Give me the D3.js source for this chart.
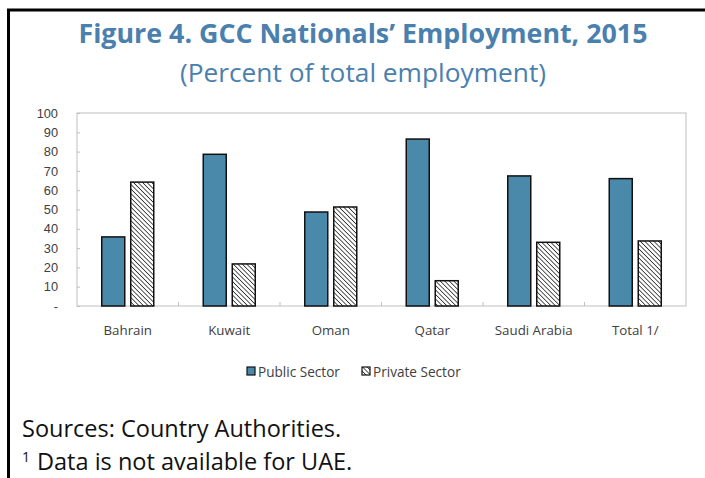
<!DOCTYPE html>
<html>
<head>
<meta charset="utf-8">
<script src="https://cdn.jsdelivr.net/npm/d3@7"></script>
<style>
  body { margin: 0; background: #fff; }
  svg { display: block; font-family: "Open Sans", "Noto Sans", sans-serif; }
</style>
</head>
<body>
<svg width="705" height="478"></svg>
<script>
// data
var countries = ["Bahrain", "Kuwait", "Oman", "Qatar", "Saudi Arabia", "Total 1/"];
var publicSector = [35.8, 78.6, 48.7, 86.5, 67.4, 66.0];
var privateSector = [64.2, 21.8, 51.3, 13.1, 33.0, 33.7];
var seriesNames = ["Public Sector", "Private Sector"];
var yTicks = [0, 10, 20, 30, 40, 50, 60, 70, 80, 90, 100];

var svg = d3.select("svg"),
    width = +svg.attr("width"),
    height = +svg.attr("height");

var margin = {left: 77, top: 113, right: 19, bottom: 172};
var plotW = width - margin.left - margin.right,
    plotH = height - margin.top - margin.bottom;

var blue = "#4a89aa",
    titleBlue = "#4a80ad";

// hatch for private sector
var defs = svg.append("defs");
var pat = defs.append("pattern")
    .attr("id", "hatch")
    .attr("patternUnits", "userSpaceOnUse")
    .attr("width", 3.2)
    .attr("height", 3.2)
    .attr("patternTransform", "rotate(-45)");
pat.append("rect").attr("width", 3.2).attr("height", 3.2).attr("fill", "#fff");
pat.append("line")
    .attr("x1", 0).attr("y1", 0).attr("x2", 0).attr("y2", 3.2)
    .attr("stroke", "#222").attr("stroke-width", 1.5);

// frame (left + top only)
svg.append("path")
    .attr("d", "M8.5," + height + "V10H" + width)
    .attr("fill", "none")
    .attr("stroke", "#000")
    .attr("stroke-width", 3);

// titles
svg.append("text")
    .attr("x", 363).attr("y", 43)
    .attr("text-anchor", "middle")
    .attr("font-size", 26.8)
    .attr("font-weight", "bold")
    .attr("fill", titleBlue)
    .text("Figure 4. GCC Nationals\u2019 Employment, 2015");

svg.append("text")
    .attr("x", 363).attr("y", 82)
    .attr("text-anchor", "middle")
    .attr("font-size", 26.3)
    .attr("fill", titleBlue)
    .text("(Percent of total employment)");

var g = svg.append("g").attr("transform", "translate(" + margin.left + "," + margin.top + ")");

var x = d3.scaleBand().domain(countries).range([0, plotW]);
var y = d3.scaleLinear().domain([0, 100]).range([plotH, 0]);

// plot border
g.append("rect")
    .attr("width", plotW).attr("height", plotH)
    .attr("fill", "none").attr("stroke", "#bfbfbf");

// y axis
var yAxis = g.append("g")
    .call(d3.axisLeft(y).tickValues(yTicks).tickSize(-3).tickPadding(19)
        .tickFormat(function (d) { return d === 0 ? "-" : d; }));
yAxis.select(".domain").remove();
yAxis.selectAll(".tick line").attr("stroke", "#bfbfbf");
yAxis.selectAll("text").attr("font-size", 12.8).attr("fill", "#404040").attr("font-family", null);

// category separators
g.selectAll(".sep")
    .data(countries.slice(1))
    .enter().append("line")
    .attr("x1", function (d) { return x(d); })
    .attr("x2", function (d) { return x(d); })
    .attr("y1", plotH).attr("y2", plotH - 4)
    .attr("stroke", "#bfbfbf");

// x labels
g.selectAll(".xlab")
    .data(countries)
    .enter().append("text")
    .attr("x", function (d) { return x(d) + x.bandwidth() / 2; })
    .attr("y", plotH + 29)
    .attr("text-anchor", "middle")
    .attr("font-size", 13.3)
    .attr("fill", "#404040")
    .text(function (d) { return d; });

var barW = 23, gap = 6;

g.selectAll(".pub")
    .data(countries)
    .enter().append("rect")
    .attr("x", function (d) { return x(d) + x.bandwidth() / 2 - gap / 2 - barW; })
    .attr("y", function (d, i) { return y(publicSector[i]); })
    .attr("width", barW)
    .attr("height", function (d, i) { return plotH - y(publicSector[i]); })
    .attr("fill", blue)
    .attr("stroke", "#111")
    .attr("stroke-width", 1.5);

g.selectAll(".priv")
    .data(countries)
    .enter().append("rect")
    .attr("x", function (d) { return x(d) + x.bandwidth() / 2 + gap / 2; })
    .attr("y", function (d, i) { return y(privateSector[i]); })
    .attr("width", barW)
    .attr("height", function (d, i) { return plotH - y(privateSector[i]); })
    .attr("fill", "url(#hatch)")
    .attr("stroke", "#111")
    .attr("stroke-width", 1.5);

// legend
var legX = [247, 362];
var leg = svg.selectAll(".leg")
    .data(seriesNames)
    .enter().append("g")
    .attr("transform", function (d, i) { return "translate(" + legX[i] + ",367)"; });
leg.append("rect")
    .attr("width", 8).attr("height", 8)
    .attr("fill", function (d, i) { return i === 0 ? blue : "url(#hatch)"; })
    .attr("stroke", "#111").attr("stroke-width", 1.2);
leg.append("text")
    .attr("x", 11).attr("y", 9.5)
    .attr("font-size", 13.6)
    .attr("fill", "#404040")
    .text(function (d) { return d; });

// notes
svg.append("text")
    .attr("x", 22).attr("y", 437)
    .attr("font-size", 23.5)
    .attr("fill", "#111")
    .text("Sources: Country Authorities.");

var note = svg.append("text")
    .attr("x", 22).attr("y", 470)
    .attr("font-size", 23.5)
    .attr("fill", "#111");
note.append("tspan").attr("font-size", 14).attr("dy", -8).text("1");
note.append("tspan").attr("dy", 8).attr("x", 37).text("Data is not available for UAE.");
</script>
</body>
</html>
